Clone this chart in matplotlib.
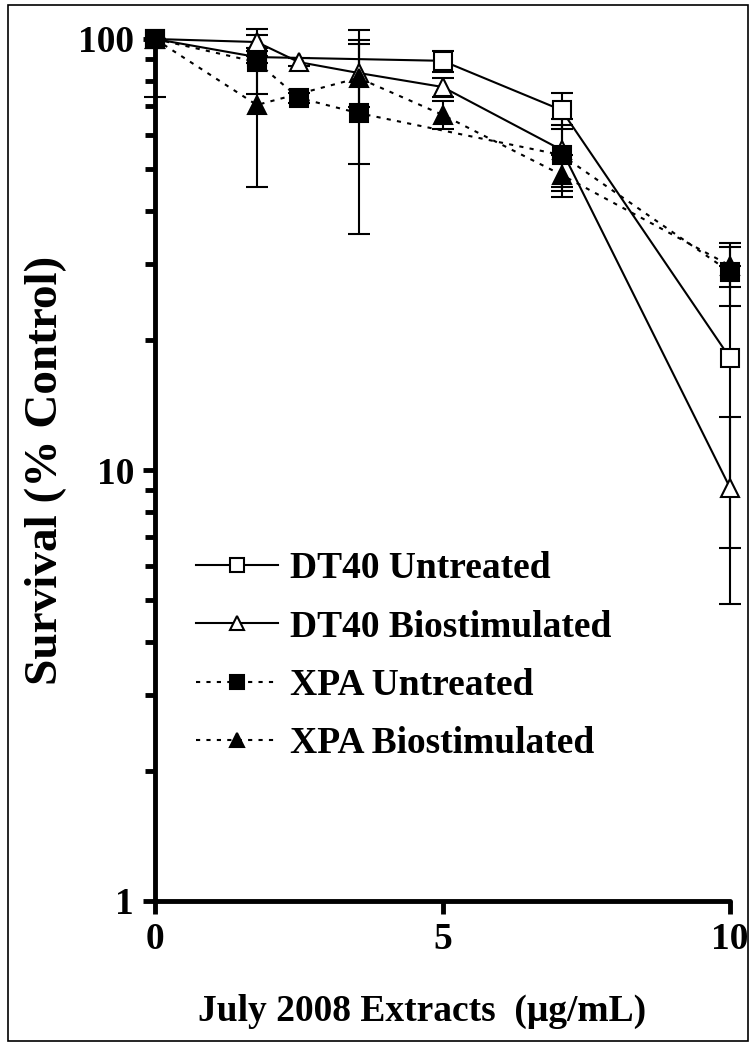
import matplotlib
matplotlib.use("Agg")
import matplotlib.pyplot as plt
from matplotlib.patches import Rectangle
from matplotlib.lines import Line2D
from matplotlib.ticker import LogLocator, NullFormatter, FixedLocator, FixedFormatter

plt.rcParams['font.family'] = ['Liberation Serif', 'DejaVu Serif']
plt.rcParams['font.weight'] = 'bold'

# concentrations (ug/mL) and survival (% control) per series
dt40_u_x = [0, 1.77, 5, 7.07, 10]
dt40_u_y = [100, 90.8, 89, 68.4, 18.2]
dt40_u_err = [0, 3, 5, 6.5, 11.6]

dt40_b_x = [0, 1.77, 2.5, 3.54, 5, 7.07, 10]
dt40_b_y = [100, 98.4, 88.4, 83.4, 77.4, 55.3, 9.1]
dt40_b_err = [0, 7, 2, 14, 4, 10, 4.2]

xpa_u_x = [0, 1.77, 2.5, 3.54, 7.07, 10]
xpa_u_y = [100, 88.4, 73.0, 67.3, 53.8, 28.8]
xpa_u_err = [0, 14, 2, 32, 9.4, 4.8]

xpa_b_x = [0, 1.77, 3.54, 5, 7.07, 10]
xpa_b_y = [100, 70.3, 81.2, 66.7, 48.4, 29.8]
xpa_b_err_lo = [26.5, 25, 30, 5, 5.4, 3.2]
xpa_b_err_hi = [0, 25, 24, 5, 5.4, 3.2]

labels = ['DT40 Untreated', 'DT40 Biostimulated', 'XPA Untreated', 'XPA Biostimulated']

fig = plt.figure(figsize=(7.55, 10.46), dpi=100)
ax = fig.add_axes([155/755, 1 - 901/1046, 575/755, 862/1046])

common = dict(color='black', lw=1.5, ms=13, mew=1.5, elinewidth=1.5,
              capsize=8, capthick=1.5, clip_on=False)
dash = (0, (2, 3))

ax.errorbar(dt40_u_x, dt40_u_y, yerr=dt40_u_err, marker='s', mfc='white',
            ls='-', **common)
ax.errorbar(dt40_b_x, dt40_b_y, yerr=dt40_b_err, marker='^', mfc='white',
            ls='-', **common)
ax.errorbar(xpa_u_x, xpa_u_y, yerr=xpa_u_err, marker='s', mfc='black',
            ls=dash, **common)
ax.errorbar(xpa_b_x, xpa_b_y, yerr=[xpa_b_err_lo, xpa_b_err_hi], marker='^',
            mfc='black', ls=dash, **common)

ax.set_yscale('log')
ax.set_ylim(1, 100)
ax.set_xlim(0, 10)
ax.xaxis.set_major_locator(FixedLocator([0, 5, 10]))
ax.yaxis.set_major_locator(FixedLocator([1, 10, 100]))
ax.yaxis.set_major_formatter(FixedFormatter(['1', '10', '100']))
ax.yaxis.set_minor_locator(LogLocator(base=10, subs=range(2, 10)))
ax.yaxis.set_minor_formatter(NullFormatter())

for s in ['top', 'right']:
    ax.spines[s].set_visible(False)
for s in ['left', 'bottom']:
    ax.spines[s].set_linewidth(3.5)
    ax.spines[s].set_capstyle('round')

ax.tick_params(axis='both', which='major', direction='out', length=9, width=3.5,
               labelsize=27)
ax.tick_params(axis='x', which='major', pad=6)
ax.tick_params(axis='y', which='major', pad=6)
ax.tick_params(axis='y', which='minor', direction='out', length=7, width=3.5)

ax.set_xlabel('July 2008 Extracts  (\u03bcg/mL)', fontsize=27, fontweight='bold')
ax.xaxis.set_label_coords(0.465, -0.108)
ax.set_ylabel('Survival (% Control)', fontsize=34, fontweight='bold', labelpad=8)

handles = [
    Line2D([], [], color='black', lw=1.5, ls='-', marker='s', mfc='white', ms=10, mew=1.5),
    Line2D([], [], color='black', lw=1.5, ls='-', marker='^', mfc='white', ms=10, mew=1.5),
    Line2D([], [], color='black', lw=1.5, ls=dash, marker='s', mfc='black', ms=10, mew=1.5),
    Line2D([], [], color='black', lw=1.5, ls=dash, marker='^', mfc='black', ms=10, mew=1.5),
]
ax.legend(handles, labels, loc='upper left', bbox_to_anchor=(0.045, 0.423), frameon=False,
          fontsize=27, handlelength=2.2, handletextpad=0.3, labelspacing=0.62,
          borderaxespad=0, numpoints=1)

fig.patches.append(Rectangle((8/755, 5/1046), 740/755, 1036/1046, fill=False,
                             lw=1.2, ec='black', transform=fig.transFigure, figure=fig))

fig.savefig('out.png', dpi=100)
